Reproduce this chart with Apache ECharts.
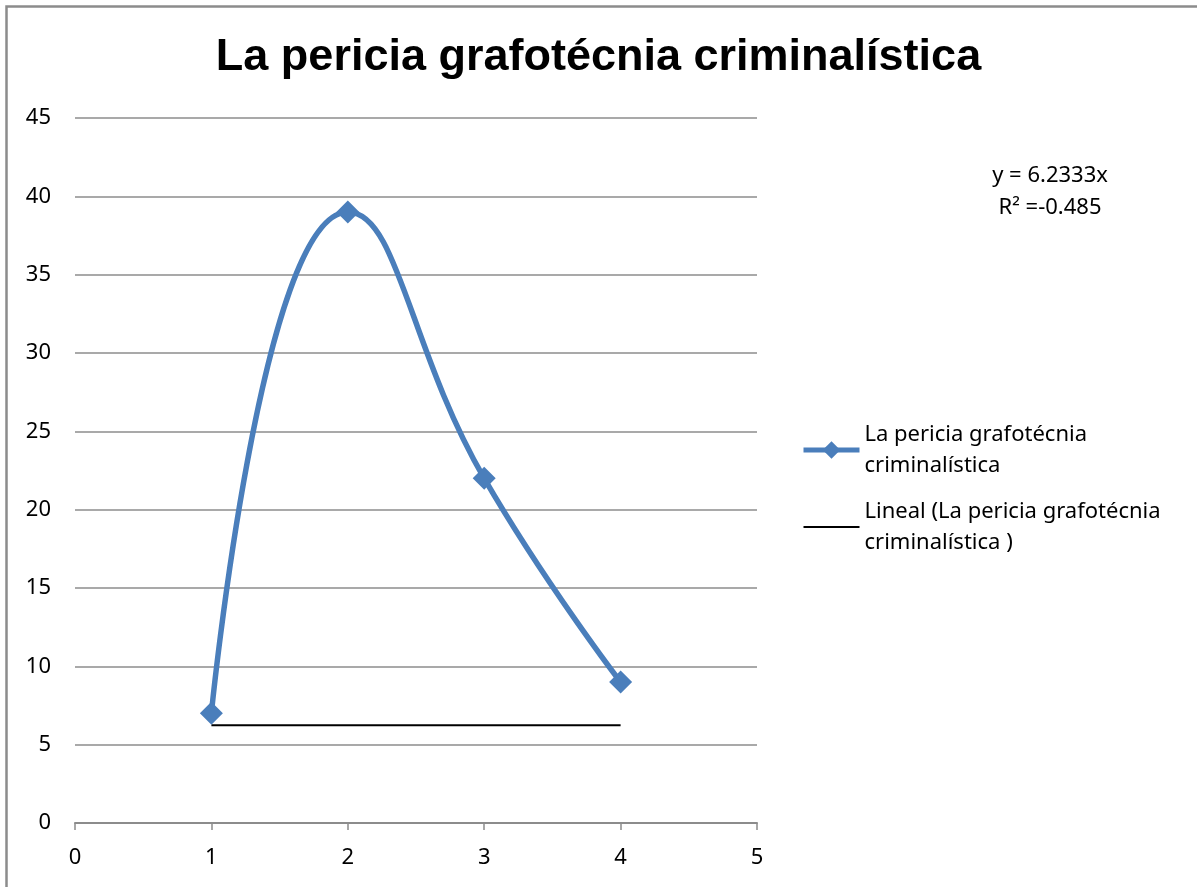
<!DOCTYPE html>
<html>
<head>
<meta charset="utf-8">
<script src="https://cdn.jsdelivr.net/npm/echarts@6/dist/echarts.min.js"></script>
<style>
  html, body { margin: 0; padding: 0; background: #fff; }
  #chart { width: 1197px; height: 887px; }
</style>
</head>
<body>
<div id="chart"></div>
<script>
// datos
const seriesName = 'La pericia grafotécnia criminalística'
const xValues = [1, 2, 3, 4]
const yValues = [7, 39, 22, 9]
// línea de tendencia (Lineal) tal como aparece dibujada
const trendX = [1, 4]
const trendY = [6.2333, 6.2333]
const equationLines = ['y = 6.2333x', 'R² =-0.485']

const trendName = 'Lineal (' + seriesName + ' )'
const chart = echarts.init(document.getElementById('chart'))

const option = {
  backgroundColor: '#fff',
  animation: false,
  title: {
    text: seriesName,
    left: 'center',
    top: 30,
    textStyle: {
      fontFamily: 'Liberation Sans',
      fontWeight: 'bold',
      fontSize: 45,
      color: '#000'
    }
  },
  grid: {
    left: 75,
    right: 440,
    top: 118,
    bottom: 64
  },
  xAxis: {
    type: 'value',
    min: 0,
    max: 5,
    interval: 1,
    splitLine: { show: false },
    axisLine: { lineStyle: { color: '#8c8c8c', width: 2 } },
    axisTick: { show: true, length: 7, lineStyle: { color: '#8c8c8c', width: 1.5 } },
    axisLabel: { fontFamily: 'Noto Sans', fontSize: 22, color: '#000', margin: 24 }
  },
  yAxis: {
    type: 'value',
    min: 0,
    max: 45,
    interval: 5,
    axisLine: { show: false },
    axisTick: { show: false },
    splitLine: { lineStyle: { color: '#8c8c8c', width: 1.5 } },
    axisLabel: { fontFamily: 'Noto Sans', fontSize: 22, color: '#000', margin: 24 }
  },
  legend: {
    orient: 'vertical',
    left: 796,
    top: 414,
    itemWidth: 56,
    itemHeight: 22,
    itemGap: 15,
    textStyle: { fontFamily: 'Noto Sans', fontSize: 22, color: '#000', lineHeight: 31 },
    data: [
      { name: seriesName, lineStyle: { width: 5 } },
      { name: trendName, itemStyle: { opacity: 0 }, lineStyle: { width: 2 } }
    ],
    formatter: function (name) {
      if (name === trendName) {
        return 'Lineal (La pericia grafotécnia\ncriminalística )'
      }
      return 'La pericia grafotécnia\ncriminalística'
    }
  },
  graphic: [
    {
      type: 'rect',
      left: 4,
      top: 4,
      shape: { width: 1300, height: 1000 },
      style: { fill: 'none', stroke: '#8c8c8c', lineWidth: 2.5 },
      silent: true
    },
    {
      type: 'text',
      style: {
        x: 1050,
        y: 160,
        text: equationLines.join('\n'),
        font: '22px "Noto Sans"',
        fill: '#000',
        align: 'center',
        lineHeight: 32
      }
    }
  ],
  series: [
    {
      name: seriesName,
      type: 'line',
      smooth: 0.5,
      data: xValues.map((x, i) => [x, yValues[i]]),
      symbol: 'diamond',
      symbolSize: 23,
      lineStyle: { color: '#4a7ebb', width: 5.5 },
      itemStyle: { color: '#4a7ebb' }
    },
    {
      name: trendName,
      type: 'line',
      data: trendX.map((x, i) => [x, trendY[i]]),
      symbol: 'none',
      lineStyle: { color: '#000', width: 2 },
      itemStyle: { color: '#000' }
    }
  ]
}

chart.setOption(option)
</script>
</body>
</html>
